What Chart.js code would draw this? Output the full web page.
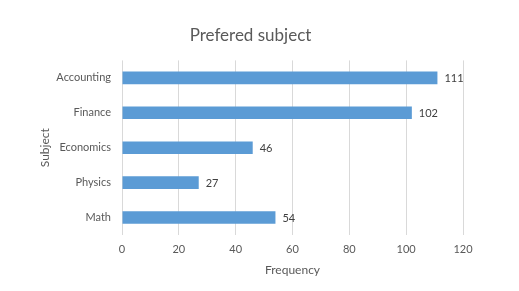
<!DOCTYPE html>
<html lang="en">
<head>
  <meta charset="UTF-8">
  <script src="https://cdn.jsdelivr.net/npm/chart.js"></script>
  <title>Prefered subject</title>
  <style>
    html, body { margin: 0; padding: 0; background: #fff; }
    #wrap { width: 519px; height: 291px; }
  </style>
</head>
<body>
  <div id="wrap"><canvas id="subjectChart" width="519" height="291"></canvas></div>
  <script>
    // data
    const subjects = ['Accounting', 'Finance', 'Economics', 'Physics', 'Math'];
    const frequency = [111, 102, 46, 27, 54];
    const xTicks = [0, 20, 40, 60, 80, 100, 120];

    const textGrey = '#595959';
    const font = 'Lato, "Open Sans", sans-serif';

    // draws the value at the end of every bar
    const valueLabels = {
      id: 'valueLabels',
      afterDatasetsDraw(chart) {
        const ctx = chart.ctx;
        const meta = chart.getDatasetMeta(0);
        ctx.save();
        ctx.font = '11px ' + font;
        ctx.fillStyle = '#404040';
        ctx.textAlign = 'left';
        ctx.textBaseline = 'middle';
        meta.data.forEach((bar, i) => {
          ctx.fillText(String(chart.data.datasets[0].data[i]), bar.x + 7, bar.y + 1);
        });
        ctx.restore();
      }
    };

    window.onload = function() {
      const ctx = document.getElementById('subjectChart').getContext('2d');
      new Chart(ctx, {
        type: 'bar',
        data: {
          labels: subjects,
          datasets: [{
            data: frequency,
            backgroundColor: '#5b9bd5',
            borderWidth: 0,
            barPercentage: 0.36,
            categoryPercentage: 1
          }]
        },
        options: {
          indexAxis: 'y',
          responsive: false,
          animation: false,
          layout: { padding: { top: 0, left: 38, right: 56, bottom: 14 } },
          plugins: {
            legend: { display: false },
            tooltip: { enabled: false },
            title: {
              display: true,
              text: 'Prefered subject',
              color: textGrey,
              font: { family: font, size: 17, weight: 'normal' },
              padding: { top: 25, bottom: 15 }
            }
          },
          scales: {
            x: {
              min: 0,
              max: 120,
              afterBuildTicks(scale) {
                scale.ticks = xTicks.map(v => ({ value: v }));
              },
              afterFit(scale) { scale.height = 42; },
              grid: { color: '#d9d9d9', drawTicks: false },
              border: { display: false },
              ticks: { color: textGrey, padding: 8, font: { family: font, size: 11 } },
              title: {
                display: true,
                text: 'Frequency',
                color: textGrey,
                font: { family: font, size: 12 },
                padding: { top: 2, bottom: 0 }
              }
            },
            y: {
              afterFit(scale) { scale.width = 84; },
              grid: { display: false, drawTicks: false },
              border: { display: false },
              ticks: { color: textGrey, padding: 11, font: { family: font, size: 11 } },
              title: {
                display: true,
                text: 'Subject',
                color: textGrey,
                font: { family: font, size: 12 },
                padding: { top: 0, bottom: 4 }
              }
            }
          }
        },
        plugins: [valueLabels]
      });
    };
  </script>
</body>
</html>
